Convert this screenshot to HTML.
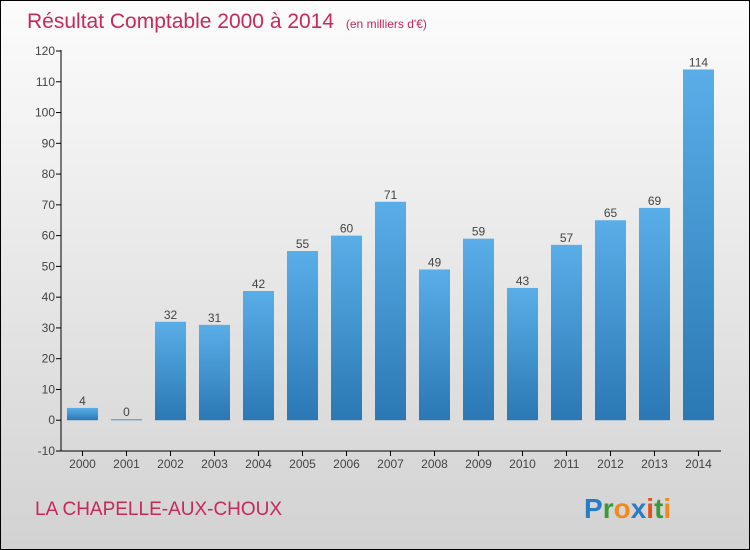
<!DOCTYPE html>
<html><head><meta charset="utf-8"><style>
body{margin:0}
#c{width:748px;height:548px;border:1px solid #000;background:linear-gradient(#fcfcfc,#d2d2d2);position:relative;overflow:hidden;font-family:"Liberation Sans",sans-serif}
</style></head><body>
<div id="c">
<svg id="s" width="748" height="548" style="position:absolute;left:0;top:0">
<defs><linearGradient id="g" x1="0" y1="0" x2="0" y2="1"><stop offset="0" stop-color="#5aaee8"/><stop offset="1" stop-color="#2a78b4"/></linearGradient></defs>
<text x="26" y="27" font-size="21" fill="#c8285a">Résultat Comptable 2000 à 2014 <tspan font-size="12" dx="6">(en milliers d'€)</tspan></text>
<text x="34" y="514" font-size="19" fill="#c8285a">LA CHAPELLE-AUX-CHOUX</text>
<text x="583" y="517" font-size="28" font-weight="bold"><tspan fill="#2a7cc8">P</tspan><tspan fill="#3a9a3a">r</tspan><tspan fill="#f08a1a">o</tspan><tspan fill="#2a7cc8">x</tspan><tspan fill="#e8501a">i</tspan><tspan fill="#3a9a3a">t</tspan><tspan fill="#f08a1a">i</tspan></text>
<g id="ax"></g><g id="bars"></g>
</svg></div>
<script>
const years=["2000","2001","2002","2003","2004","2005","2006","2007","2008","2009","2010","2011","2012","2013","2014"];
const values=[4,0,32,31,42,55,60,71,49,59,43,57,65,69,114];
const yTicks=[-10,0,10,20,30,40,50,60,70,80,90,100,110,120];
const NS="http://www.w3.org/2000/svg";
const y=v=>450-(v+10)*400/130;
const x=i=>81.5+i*44;
function el(t,a,p){const e=document.createElementNS(NS,t);for(const k in a)e.setAttribute(k,a[k]);p.appendChild(e);return e;}
const ax=document.getElementById('ax'),bg=document.getElementById('bars');
let l=el('line',{x1:60,y1:49,x2:60,y2:450,stroke:'#000'},ax);


l=el('line',{x1:60,y1:450,x2:720,y2:450,stroke:'#000'},ax);


yTicks.forEach(v=>{
 el('line',{x1:55,x2:60,y1:y(v),y2:y(v),stroke:'#000'},ax);
 const t=el('text',{x:54,y:y(v)+4,'font-size':12,fill:'#444','text-anchor':'end'},ax);t.textContent=v;
 
 
});
years.forEach((yr,i)=>{
 el('line',{x1:x(i),x2:x(i),y1:450,y2:455,stroke:'#000'},ax);
 const t=el('text',{x:x(i),y:467,'font-size':12,fill:'#444','text-anchor':'middle'},ax);t.textContent=yr;
 
 
 const v=values[i],top=y(Math.max(v,0)),h=Math.max(Math.abs(y(v)-y(0)),1);
 const r=el('rect',{x:x(i)-15.5,y:v===0?y(0)-1:top,width:31,height:h,fill:'url(#g)'},bg);
 
 
 const lb=el('text',{x:x(i),y:(v===0?y(0)-1:top)-3,'font-size':12,fill:'#444','text-anchor':'middle'},bg);lb.textContent=v;
 
 
});
</script></body></html>
